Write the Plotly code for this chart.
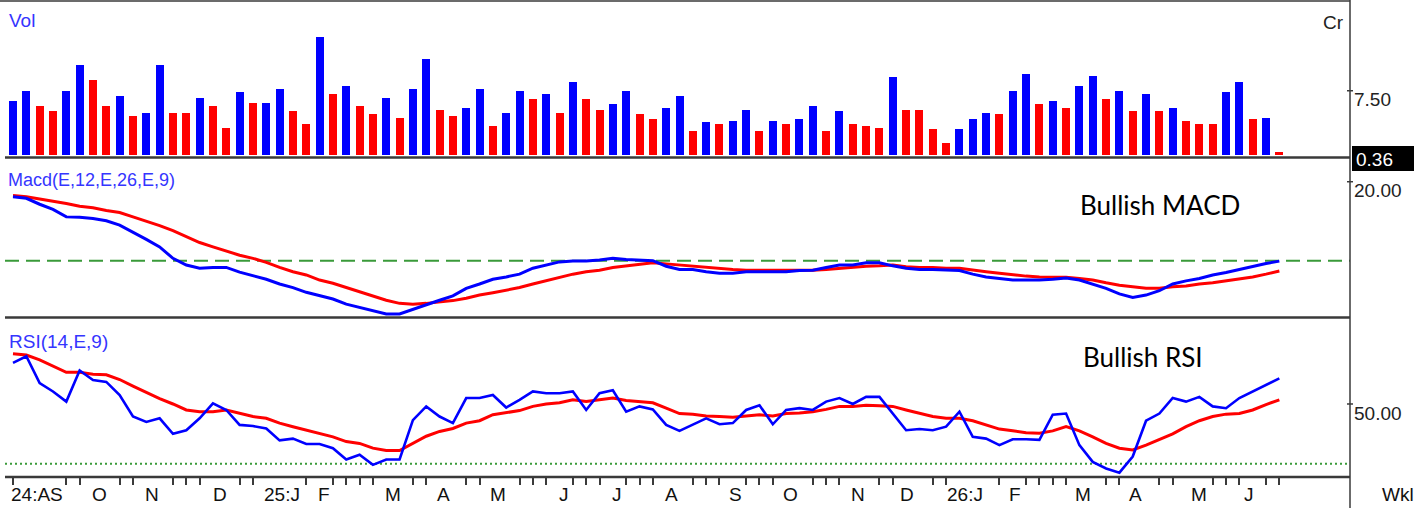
import plotly.graph_objects as go

# ---------------- data ----------------
week_idx = list(range(96))

volume = [6.3, 7.5, 5.7, 5.1, 7.5, 10.5, 8.7, 5.7, 6.9, 4.55,
          4.9, 10.5, 4.9, 4.9, 6.7, 5.7, 3.2, 7.3, 6.1, 6.1,
          7.7, 5.1, 3.6, 13.8, 7.1, 8.1, 5.7, 4.75, 6.7, 4.35,
          7.7, 11.2, 5.3, 4.55, 5.5, 7.7, 3.4, 4.9, 7.5, 6.5,
          7.1, 4.9, 8.5, 6.5, 5.3, 5.9, 7.5, 4.75, 4.2, 5.5,
          6.9, 2.8, 3.8, 3.6, 4.0, 5.3, 2.8, 4.0, 3.6, 4.2,
          5.7, 2.8, 5.1, 3.6, 3.4, 3.2, 9.1, 5.3, 5.3, 3.0,
          1.4, 3.0, 4.2, 4.9, 4.75, 7.5, 9.45, 5.9, 6.3, 5.5,
          8.1, 9.25, 6.5, 7.5, 5.1, 7.1, 5.1, 5.5, 4.0, 3.6,
          3.6, 7.3, 8.5, 4.2, 4.35, 0.36]

vol_dir = list("BBRRBBRRBR" "BBRRBRRBRB" "BRRBRBRRBR" "BBRRBBRBBR" "BRBRRBBRRB"
               "BRBRBBRBRB" "BRBRRRBRRR" "RBBBRBBRBR" "BBRBRBRBRR" "RBBRBR")

macd = [16.2, 15.8, 14.3, 13.0, 11.1, 11.0, 10.7, 10.1, 9.0, 7.3,
        5.4, 3.5, 0.6, -1.1, -1.9, -1.7, -1.7, -2.9, -3.8, -4.7,
        -5.9, -6.8, -8.0, -8.9, -9.7, -11.0, -11.8, -12.7, -13.5, -13.5,
        -12.3, -11.0, -10.0, -8.9, -7.0, -5.9, -4.7, -4.1, -3.4, -1.9,
        -1.1, -0.3, -0.1, -0.1, 0.2, 0.6, 0.3, 0.2, 0.0, -1.4,
        -2.2, -2.2, -2.8, -3.2, -3.2, -2.8, -2.8, -2.8, -2.8, -2.5,
        -2.4, -1.7, -1.1, -1.1, -0.5, -0.5, -1.3, -1.9, -2.2, -2.2,
        -2.4, -2.5, -3.4, -4.1, -4.5, -4.9, -4.9, -4.9, -4.7, -4.4,
        -4.9, -5.9, -7.0, -8.4, -9.3, -8.7, -7.6, -5.9, -5.1, -4.5,
        -3.6, -3.0, -2.2, -1.5, -0.7, -0.1]

macd_signal = [16.5, 16.2, 15.6, 15.1, 14.5, 13.8, 13.4, 12.7, 12.2, 11.1,
               10.0, 8.9, 7.6, 6.2, 4.6, 3.5, 2.4, 1.4, 0.6, -0.4,
               -1.7, -2.8, -3.6, -4.9, -5.7, -6.8, -7.8, -8.9, -10.0, -10.8,
               -11.0, -10.8, -10.5, -10.1, -9.5, -8.7, -8.1, -7.4, -6.8, -5.9,
               -5.1, -4.2, -3.4, -2.8, -2.4, -1.7, -1.3, -0.8, -0.5, -0.8,
               -1.1, -1.4, -1.7, -1.9, -2.2, -2.4, -2.4, -2.4, -2.4, -2.4,
               -2.4, -2.2, -1.9, -1.7, -1.4, -1.3, -1.1, -1.5, -1.7, -1.7,
               -1.9, -1.9, -2.4, -2.8, -3.2, -3.6, -3.9, -4.1, -4.2, -4.2,
               -4.5, -4.9, -5.6, -6.2, -6.6, -7.0, -7.0, -6.6, -6.4, -5.9,
               -5.6, -5.1, -4.6, -4.1, -3.4, -2.6]

rsi = [56.9, 58.0, 53.5, 52.1, 50.4, 55.6, 54.0, 53.7, 51.5, 47.9,
       47.0, 47.6, 45.0, 45.6, 47.6, 50.1, 49.0, 46.5, 46.3, 45.9,
       43.9, 44.2, 43.3, 43.3, 42.6, 40.7, 41.5, 39.8, 40.7, 40.7,
       47.3, 49.6, 47.9, 46.8, 51.0, 51.0, 51.5, 49.4, 50.7, 52.1,
       51.8, 51.8, 52.1, 49.0, 51.8, 52.3, 48.7, 49.6, 49.1, 46.5,
       45.5, 46.5, 47.6, 46.6, 46.8, 49.0, 49.8, 46.6, 49.0, 49.3,
       49.0, 50.4, 51.0, 50.0, 51.2, 51.2, 48.4, 45.6, 45.8, 45.6,
       46.2, 48.7, 44.5, 44.2, 43.1, 44.1, 44.1, 44.0, 48.2, 48.4,
       43.1, 40.3, 39.2, 38.5, 41.2, 47.2, 48.4, 51.0, 50.4, 51.2,
       49.6, 49.3, 51.0, 52.1, 53.2, 54.3]

rsi_signal = [58.4, 58.2, 57.4, 56.4, 55.3, 55.3, 55.0, 54.9, 54.1, 53.0,
              51.9, 50.9, 50.0, 49.0, 48.7, 48.7, 49.0, 48.4, 47.9, 47.6,
              46.8, 46.2, 45.6, 45.1, 44.5, 43.7, 43.4, 42.6, 42.2, 42.2,
              43.4, 44.6, 45.4, 45.9, 46.8, 47.2, 48.2, 48.5, 48.9, 49.6,
              50.0, 50.2, 50.7, 50.4, 50.7, 51.0, 50.6, 50.4, 50.2, 49.3,
              48.4, 48.3, 48.0, 47.9, 47.8, 48.0, 48.2, 48.0, 48.4, 48.5,
              48.7, 49.1, 49.6, 49.6, 49.8, 49.7, 49.6, 49.0, 48.4, 47.9,
              47.6, 47.6, 47.2, 46.5, 45.8, 45.5, 45.2, 45.1, 45.5, 46.2,
              45.5, 44.5, 43.4, 42.6, 42.3, 43.1, 44.0, 45.0, 46.2, 47.2,
              47.9, 48.3, 48.4, 49.0, 49.9, 50.7]

month_labels = ["24:AS", "O", "N", "D", "25:J", "F", "M", "A", "M", "J", "J",
                "A", "S", "O", "N", "D", "26:J", "F", "M", "A", "M", "J"]
month_pos = [1.8, 6.5, 10.4, 15.5, 20.2, 23.3, 28.5, 32.3, 36.4, 41.3, 45.3,
             49.4, 54.2, 58.3, 63.4, 67.1, 71.4, 75.2, 80.3, 84.2, 89.0, 92.7]
axis_ticks = [0, 4, 5, 8, 9, 12, 13, 14, 17, 18, 22, 24, 25, 26, 27, 30, 31, 34,
              35, 38, 39, 40, 42, 43, 44, 46, 47, 48, 51, 52, 53, 55, 56, 57, 60,
              61, 62, 65, 66, 69, 70, 74, 76, 77, 78, 79, 82, 83, 86, 87, 90, 91,
              92, 94, 95]

vol_tick = 7.50
macd_tick = 20.00
rsi_tick = 50.00
macd_ref = 0.0
rsi_ref = 40.0
last_vol_label = "0.36"

# ---------------- styling ----------------
BLUE = "#0000FF"
RED = "#FF0000"
LBLUE = "#3535ff"
GREEN = "#3a9a3a"
DARK = "#3a3a3a"
NARROW = "Liberation Sans Narrow, Liberation Sans, Arial, sans-serif"
HUMAN = "Lato, Carlito, Calibri, Open Sans, sans-serif"
FS = 19

W, H = 1414, 508
ML, MR, MT, MB = 5, 64, 2, 31
PW = W - ML - MR
PH = H - MT - MB


def py(pix):
    """pixel y -> paper y"""
    return (H - MB - pix) / PH


def px(pix):
    return (pix - ML) / PW


vol_dom = [py(157), 1.0]
macd_dom = [py(317), py(160)]
rsi_dom = [0.0, py(320)]

xr = [-0.6, 100.3]

fig = go.Figure()

fig.add_trace(go.Bar(
    x=week_idx, y=volume,
    marker=dict(color=[BLUE if d == "B" else RED for d in vol_dir],
                line=dict(width=0)),
    width=0.6, xaxis="x3", yaxis="y", showlegend=False))

fig.add_trace(go.Scatter(x=week_idx, y=macd_signal, mode="lines",
                         line=dict(color=RED, width=3), xaxis="x2", yaxis="y2",
                         showlegend=False))
fig.add_trace(go.Scatter(x=week_idx, y=macd, mode="lines",
                         line=dict(color=BLUE, width=3), xaxis="x2", yaxis="y2",
                         showlegend=False))

fig.add_trace(go.Scatter(x=week_idx, y=rsi_signal, mode="lines",
                         line=dict(color=RED, width=3), xaxis="x", yaxis="y3",
                         showlegend=False))
fig.add_trace(go.Scatter(x=week_idx, y=rsi, mode="lines",
                         line=dict(color=BLUE, width=2.6), xaxis="x", yaxis="y3",
                         showlegend=False))

shapes = []
# reference lines
shapes.append(dict(type="line", xref="paper", yref="y2", x0=0, x1=1,
                   y0=macd_ref, y1=macd_ref,
                   line=dict(color=GREEN, width=2, dash="14px,7px"), layer="below"))
shapes.append(dict(type="line", xref="paper", yref="y3", x0=0, x1=1,
                   y0=rsi_ref, y1=rsi_ref,
                   line=dict(color=GREEN, width=2, dash="2px,3px"), layer="below"))
# panel borders
for yy in [py(157.5), py(317.5), py(477)]:
    shapes.append(dict(type="line", xref="paper", yref="paper", x0=px(5), x1=px(1350),
                       y0=yy, y1=yy, line=dict(color=DARK, width=2.5)))
shapes.append(dict(type="line", xref="paper", yref="paper", x0=px(0), x1=px(1350),
                   y0=py(1), y1=py(1), line=dict(color=DARK, width=1.5)))
# right axis line
shapes.append(dict(type="line", xref="paper", yref="paper", x0=px(1350), x1=px(1350),
                   y0=py(508), y1=py(0), line=dict(color=DARK, width=1.5)))
# right tick marks
for yref, val in [("y", vol_tick), ("y2", macd_tick), ("y3", rsi_tick)]:
    shapes.append(dict(type="line", xref="paper", yref=yref, x0=px(1347), x1=px(1353),
                       y0=val, y1=val, line=dict(color=DARK, width=1.5)))
# last-value box
shapes.append(dict(type="rect", xref="paper", yref="paper", x0=px(1352), x1=px(1416),
                   y0=py(171), y1=py(146), fillcolor="black", line=dict(width=0)))

ann = []
ann.append(dict(text="Vol", xref="paper", yref="paper", x=px(7), y=py(20),
                xanchor="left", yanchor="middle", showarrow=False,
                font=dict(family=NARROW, size=FS, color=LBLUE)))
ann.append(dict(text="Macd(E,12,E,26,E,9)", xref="paper", yref="paper", x=px(6), y=py(180),
                xanchor="left", yanchor="middle", showarrow=False,
                font=dict(family=NARROW, size=FS - 1, color=LBLUE)))
ann.append(dict(text="RSI(14,E,9)", xref="paper", yref="paper", x=px(7), y=py(341),
                xanchor="left", yanchor="middle", showarrow=False,
                font=dict(family=NARROW, size=FS, color=LBLUE)))
ann.append(dict(text="Cr", xref="paper", yref="paper", x=px(1346), y=py(22),
                xanchor="right", yanchor="middle", showarrow=False,
                font=dict(family=NARROW, size=FS, color="#222222")))
ann.append(dict(text="Bullish MACD", xref="paper", yref="paper", x=px(1160), y=py(205),
                xanchor="center", yanchor="middle", showarrow=False,
                font=dict(family=HUMAN, size=26, color="black")))
ann.append(dict(text="Bullish RSI", xref="paper", yref="paper", x=px(1143), y=py(357),
                xanchor="center", yanchor="middle", showarrow=False,
                font=dict(family=HUMAN, size=26, color="black")))
# right labels
ann.append(dict(text=f"{vol_tick:.2f}", xref="paper", yref="paper", x=px(1352), y=py(99),
                xanchor="left", yanchor="middle", showarrow=False,
                font=dict(family=NARROW, size=FS, color="#222222")))
ann.append(dict(text=f"{macd_tick:.2f}", xref="paper", yref="paper", x=px(1352), y=py(190),
                xanchor="left", yanchor="middle", showarrow=False,
                font=dict(family=NARROW, size=FS, color="#222222")))
ann.append(dict(text=f"{rsi_tick:.2f}", xref="paper", yref="paper", x=px(1352), y=py(413),
                xanchor="left", yanchor="middle", showarrow=False,
                font=dict(family=NARROW, size=FS, color="#222222")))
ann.append(dict(text=last_vol_label, xref="paper", yref="paper", x=px(1354), y=py(159),
                xanchor="left", yanchor="middle", showarrow=False,
                font=dict(family=NARROW, size=FS, color="white")))
ann.append(dict(text="Wkl", xref="paper", yref="paper", x=px(1398), y=py(494),
                xanchor="center", yanchor="middle", showarrow=False,
                font=dict(family=NARROW, size=FS, color="#111111")))
# month labels
for lab, pos in zip(month_labels, month_pos):
    ann.append(dict(text=lab, xref="x", yref="paper", x=pos, y=py(494),
                    xanchor="center", yanchor="middle", showarrow=False,
                    font=dict(family=NARROW, size=FS, color="#111111")))

fig.update_layout(
    width=W, height=H,
    margin=dict(l=ML, r=MR, t=MT, b=MB),
    paper_bgcolor="white", plot_bgcolor="white",
    bargap=0,
    xaxis=dict(domain=[0, 1], range=xr, anchor="y3", showticklabels=False,
               ticks="outside", tickvals=axis_ticks, ticklen=7, tickwidth=1.5,
               tickcolor=DARK, showgrid=False, zeroline=False, showline=False),
    xaxis2=dict(domain=[0, 1], range=xr, anchor="y2", matches="x", visible=False),
    xaxis3=dict(domain=[0, 1], range=xr, anchor="y", matches="x", visible=False),
    yaxis=dict(domain=vol_dom, range=[-0.23, 17.85], visible=False),
    yaxis2=dict(domain=macd_dom, range=[-14.25, 25.5], visible=False),
    yaxis3=dict(domain=rsi_dom, range=[37.77, 64.07], visible=False),
    shapes=shapes, annotations=ann,
)

fig.write_html("out.html",
               config={"displayModeBar": False},
               post_script="document.body.style.margin='0px';document.body.style.padding='0px';")
